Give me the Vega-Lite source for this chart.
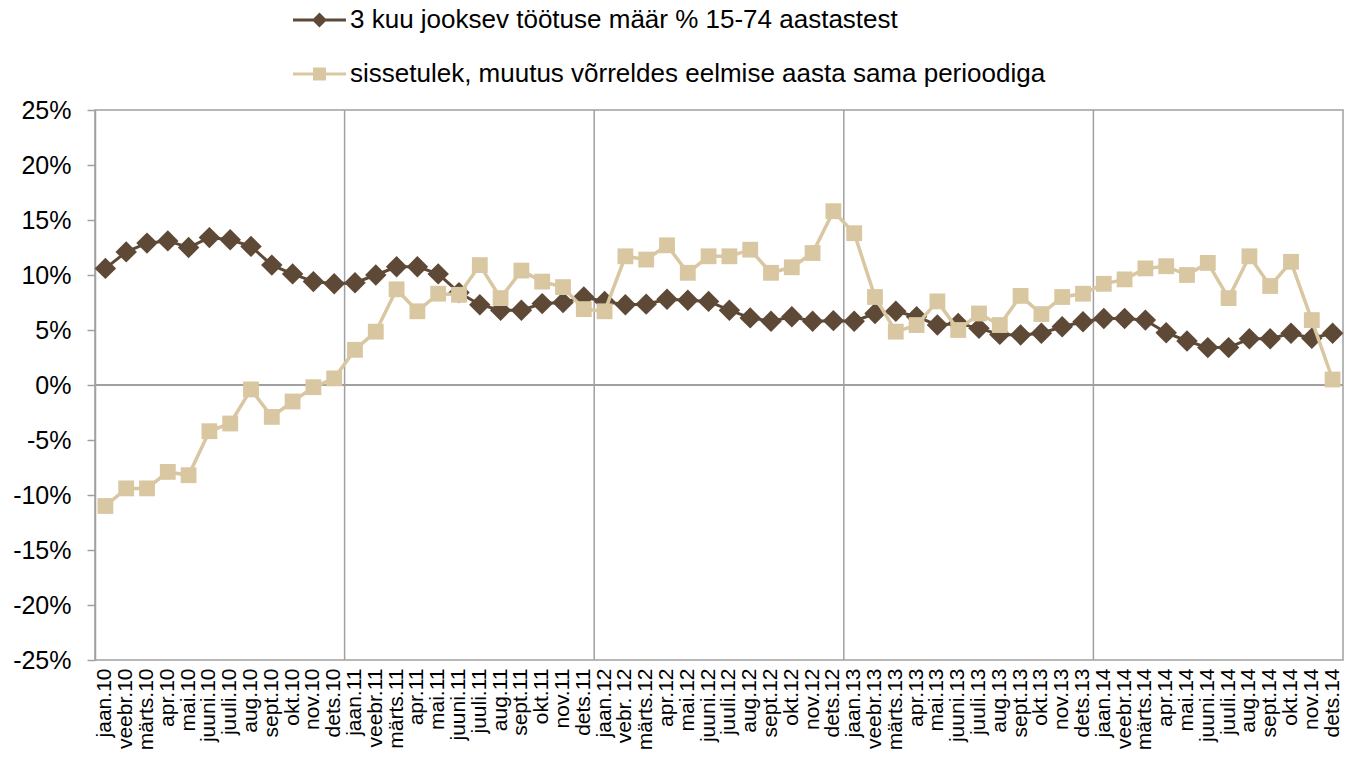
{
  "$schema": "https://vega.github.io/schema/vega-lite/v6.json",
  "width": 1248,
  "height": 550,
  "autosize": "none",
  "padding": {"left": 95, "top": 110, "right": 16, "bottom": 100},
  "background": "white",
  "config": {
    "font": "Liberation Sans",
    "view": {"stroke": "#a0a0a0", "strokeWidth": 1.5},
    "axisX": {"domain": false, "ticks": false, "grid": false, "labelAngle": -90, "labelFont": "Liberation Sans", "labelFontSize": 21, "labelColor": "#000000", "labelPadding": 8, "title": null, "labelOverlap": false},
    "axisY": {"domain": true, "domainColor": "#a0a0a0", "domainWidth": 1.5, "ticks": true, "tickSize": 8, "tickColor": "#a0a0a0", "tickWidth": 1.5, "labelFont": "Liberation Sans", "labelFontSize": 25, "labelColor": "#000000", "labelPadding": 16, "grid": false, "title": null}
  },
  "data": {"values": [
    {"month": "jaan.10", "tootus": 10.6, "sissetulek": -11.0},
    {"month": "veebr.10", "tootus": 12.1, "sissetulek": -9.4},
    {"month": "märts.10", "tootus": 12.9, "sissetulek": -9.4},
    {"month": "apr.10", "tootus": 13.1, "sissetulek": -7.9},
    {"month": "mai.10", "tootus": 12.5, "sissetulek": -8.2},
    {"month": "juuni.10", "tootus": 13.4, "sissetulek": -4.2},
    {"month": "juuli.10", "tootus": 13.2, "sissetulek": -3.5},
    {"month": "aug.10", "tootus": 12.6, "sissetulek": -0.4},
    {"month": "sept.10", "tootus": 10.9, "sissetulek": -2.9},
    {"month": "okt.10", "tootus": 10.1, "sissetulek": -1.5},
    {"month": "nov.10", "tootus": 9.4, "sissetulek": -0.2},
    {"month": "dets.10", "tootus": 9.2, "sissetulek": 0.6},
    {"month": "jaan.11", "tootus": 9.3, "sissetulek": 3.2},
    {"month": "veebr.11", "tootus": 10.0, "sissetulek": 4.85},
    {"month": "märts.11", "tootus": 10.75, "sissetulek": 8.7},
    {"month": "apr.11", "tootus": 10.75, "sissetulek": 6.7},
    {"month": "mai.11", "tootus": 10.1, "sissetulek": 8.3},
    {"month": "juuni.11", "tootus": 8.4, "sissetulek": 8.2},
    {"month": "juuli.11", "tootus": 7.3, "sissetulek": 10.9},
    {"month": "aug.11", "tootus": 6.8, "sissetulek": 7.9},
    {"month": "sept.11", "tootus": 6.8, "sissetulek": 10.4},
    {"month": "okt.11", "tootus": 7.4, "sissetulek": 9.4},
    {"month": "nov.11", "tootus": 7.5, "sissetulek": 8.9},
    {"month": "dets.11", "tootus": 8.0, "sissetulek": 6.9},
    {"month": "jaan.12", "tootus": 7.6, "sissetulek": 6.7},
    {"month": "vebr. 12", "tootus": 7.3, "sissetulek": 11.7},
    {"month": "märts.12", "tootus": 7.35, "sissetulek": 11.4},
    {"month": "apr.12", "tootus": 7.8, "sissetulek": 12.7},
    {"month": "mai.12", "tootus": 7.7, "sissetulek": 10.2},
    {"month": "juuni.12", "tootus": 7.6, "sissetulek": 11.7},
    {"month": "juuli.12", "tootus": 6.8, "sissetulek": 11.7},
    {"month": "aug.12", "tootus": 6.1, "sissetulek": 12.3},
    {"month": "sept.12", "tootus": 5.8, "sissetulek": 10.2},
    {"month": "okt.12", "tootus": 6.2, "sissetulek": 10.7},
    {"month": "nov.12", "tootus": 5.8, "sissetulek": 12.0},
    {"month": "dets.12", "tootus": 5.85, "sissetulek": 15.8},
    {"month": "jaan.13", "tootus": 5.8, "sissetulek": 13.8},
    {"month": "veebr.13", "tootus": 6.5, "sissetulek": 8.0},
    {"month": "märts.13", "tootus": 6.7, "sissetulek": 4.85},
    {"month": "apr.13", "tootus": 6.2, "sissetulek": 5.45},
    {"month": "mai.13", "tootus": 5.45, "sissetulek": 7.6},
    {"month": "juuni.13", "tootus": 5.6, "sissetulek": 5.0},
    {"month": "juuli.13", "tootus": 5.15, "sissetulek": 6.5},
    {"month": "aug.13", "tootus": 4.6, "sissetulek": 5.45},
    {"month": "sept.13", "tootus": 4.55, "sissetulek": 8.1},
    {"month": "okt.13", "tootus": 4.7, "sissetulek": 6.45},
    {"month": "nov.13", "tootus": 5.3, "sissetulek": 8.0},
    {"month": "dets.13", "tootus": 5.75, "sissetulek": 8.3},
    {"month": "jaan.14", "tootus": 6.05, "sissetulek": 9.2},
    {"month": "veebr.14", "tootus": 6.05, "sissetulek": 9.6},
    {"month": "märts.14", "tootus": 5.9, "sissetulek": 10.6},
    {"month": "apr.14", "tootus": 4.75, "sissetulek": 10.8},
    {"month": "mai.14", "tootus": 4.0, "sissetulek": 10.0},
    {"month": "juuni.14", "tootus": 3.4, "sissetulek": 11.1},
    {"month": "juuli.14", "tootus": 3.4, "sissetulek": 7.9},
    {"month": "aug.14", "tootus": 4.2, "sissetulek": 11.7},
    {"month": "sept.14", "tootus": 4.2, "sissetulek": 9.0},
    {"month": "okt.14", "tootus": 4.7, "sissetulek": 11.2},
    {"month": "nov.14", "tootus": 4.25, "sissetulek": 5.9},
    {"month": "dets.14", "tootus": 4.7, "sissetulek": 0.5}
  ]},
  "layer": [
    {
      "transform": [{"filter": "indexof(datum.month, 'jaan') === 0 && datum.month !== 'jaan.10'"}],
      "mark": {"type": "rule", "color": "#a0a0a0", "strokeWidth": 1.5},
      "encoding": {
        "x": {"field": "month", "type": "ordinal", "bandPosition": 0, "title": null,
          "scale": {"type": "band", "paddingInner": 0, "paddingOuter": 0, "domain": ["jaan.10","veebr.10","märts.10","apr.10","mai.10","juuni.10","juuli.10","aug.10","sept.10","okt.10","nov.10","dets.10","jaan.11","veebr.11","märts.11","apr.11","mai.11","juuni.11","juuli.11","aug.11","sept.11","okt.11","nov.11","dets.11","jaan.12","vebr. 12","märts.12","apr.12","mai.12","juuni.12","juuli.12","aug.12","sept.12","okt.12","nov.12","dets.12","jaan.13","veebr.13","märts.13","apr.13","mai.13","juuni.13","juuli.13","aug.13","sept.13","okt.13","nov.13","dets.13","jaan.14","veebr.14","märts.14","apr.14","mai.14","juuni.14","juuli.14","aug.14","sept.14","okt.14","nov.14","dets.14"]}}
      }
    },
    {
      "mark": {"type": "rule", "color": "#a0a0a0", "strokeWidth": 1.5},
      "encoding": {
        "y": {"datum": 0, "type": "quantitative", "title": null,
          "scale": {"domain": [-25, 25], "nice": false, "zero": false},
          "axis": {"values": [-25, -20, -15, -10, -5, 0, 5, 10, 15, 20, 25], "labelExpr": "datum.value + '%'"}}
      }
    },
    {
      "mark": {"type": "line", "strokeWidth": 3},
      "encoding": {
        "x": {"field": "month", "type": "ordinal", "bandPosition": 0.5, "title": null},
        "y": {"field": "tootus", "type": "quantitative", "title": null},
        "color": {"datum": "3 kuu jooksev töötuse määr % 15-74 aastastest", "type": "nominal",
          "scale": {"domain": ["3 kuu jooksev töötuse määr % 15-74 aastastest", "sissetulek, muutus võrreldes eelmise aasta sama perioodiga"], "range": ["#5e4836", "#d9c7a1"]},
          "legend": {
            "orient": "none", "legendX": 198, "legendY": -116.5, "direction": "vertical", "title": null,
            "padding": 0, "rowPadding": 14, "labelOffset": 4, "labelLimit": 1000,
            "labelFont": "Liberation Sans", "labelFontSize": 26, "labelColor": "#000000",
            "symbolSize": 2809, "symbolStrokeWidth": 0,
            "encode": {"symbols": {"update": {
              "shape": {"signal": "datum.index === 0 ? 'M-1,-0.057H1V0.057H-1ZM0,-0.283L0.283,0L0,0.283L-0.283,0Z' : 'M-1,-0.06H1V0.06H-1ZM-0.245,-0.245H0.245V0.245H-0.245Z'"},
              "fill": {"scale": "color", "field": "value"},
              "stroke": {"value": "transparent"},
              "strokeWidth": {"value": 0},
              "opacity": {"value": 1}
            }}}
          }}
      }
    },
    {
      "mark": {"type": "point", "shape": "diamond", "filled": true, "size": 460, "opacity": 1},
      "encoding": {
        "x": {"field": "month", "type": "ordinal", "bandPosition": 0.5, "title": null},
        "y": {"field": "tootus", "type": "quantitative", "title": null},
        "color": {"datum": "3 kuu jooksev töötuse määr % 15-74 aastastest", "type": "nominal"}
      }
    },
    {
      "mark": {"type": "line", "strokeWidth": 3.5},
      "encoding": {
        "x": {"field": "month", "type": "ordinal", "bandPosition": 0.5, "title": null},
        "y": {"field": "sissetulek", "type": "quantitative", "title": null},
        "color": {"datum": "sissetulek, muutus võrreldes eelmise aasta sama perioodiga", "type": "nominal"}
      }
    },
    {
      "mark": {"type": "point", "shape": "square", "filled": true, "size": 250, "opacity": 1},
      "encoding": {
        "x": {"field": "month", "type": "ordinal", "bandPosition": 0.5, "title": null},
        "y": {"field": "sissetulek", "type": "quantitative", "title": null},
        "color": {"datum": "sissetulek, muutus võrreldes eelmise aasta sama perioodiga", "type": "nominal"}
      }
    }
  ]
}
